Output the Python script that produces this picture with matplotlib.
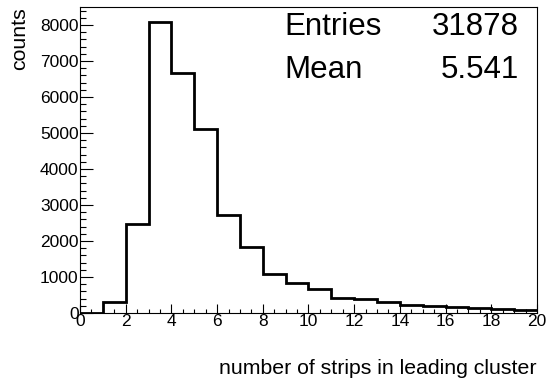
import numpy as np
import matplotlib.pyplot as plt
from matplotlib.ticker import MultipleLocator

plt.rcParams['font.family'] = ['Liberation Sans', 'DejaVu Sans']

# strip multiplicity of the leading cluster, unit bins 0..20
bin_edges = np.arange(0, 21)
counts = [10, 297, 2464, 8094, 6658, 5111, 2714, 1825, 1094, 825,
          667, 427, 380, 297, 233, 186, 158, 130, 111, 94]
n_entries = 31878
mean_value = 5.541

fig = plt.figure(figsize=(5.46, 3.81), dpi=100)
ax = fig.add_axes([0.1465, 0.1785, 0.8370, 0.8030])

ax.stairs(counts, bin_edges, color='black', linewidth=2.0, baseline=None)

ax.set_xlim(0, 20)
ax.set_ylim(0, max(counts) * 1.05)

ax.xaxis.set_major_locator(MultipleLocator(2))
ax.xaxis.set_minor_locator(MultipleLocator(0.5))
ax.yaxis.set_major_locator(MultipleLocator(1000))
ax.yaxis.set_minor_locator(MultipleLocator(200))

ax.tick_params(axis='both', which='both', direction='in', labelsize=12.5,
               top=False, right=False, width=0.8)
ax.tick_params(axis='x', which='major', length=6.5, pad=1)
ax.tick_params(axis='x', which='minor', length=3.2)
ax.tick_params(axis='y', which='major', length=9, pad=1)
ax.tick_params(axis='y', which='minor', length=4.5)
for spine in ax.spines.values():
    spine.set_linewidth(0.8)

ax.set_xlabel('number of strips in leading cluster', fontsize=15.3,
              loc='right', labelpad=21)
ax.set_ylabel('counts', fontsize=15.3, loc='top', labelpad=8)

# statistics box
stat_size = 22.5
ax.text(0.448, 0.935, 'Entries', transform=ax.transAxes, fontsize=stat_size,
        ha='left', va='center')
ax.text(0.96, 0.935, f'{n_entries}', transform=ax.transAxes,
        fontsize=stat_size, ha='right', va='center')
ax.text(0.448, 0.795, 'Mean', transform=ax.transAxes, fontsize=stat_size,
        ha='left', va='center')
ax.text(0.96, 0.795, f'{mean_value:.3f}', transform=ax.transAxes,
        fontsize=stat_size, ha='right', va='center')

fig.savefig('out.png', dpi=100)
